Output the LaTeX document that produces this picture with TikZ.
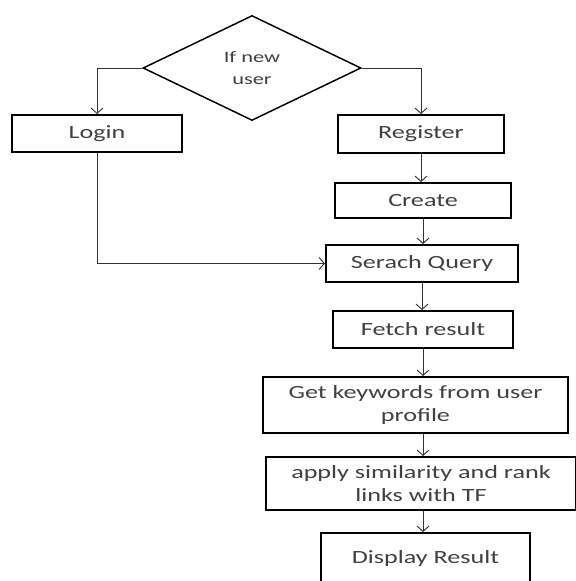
\documentclass[tikz,border=0pt]{standalone}
\usepackage{fontspec}
\setmainfont{Carlito}[FakeStretch=1.4]
\usetikzlibrary{shapes.geometric,arrows.meta}
\tikzset{
  stepbox/.style={draw,line width=1.5pt,inner sep=2pt,align=center,text=black!75,font=\fontsize{14}{17}\selectfont},
  arr/.style={-{Straight Barb[length=4pt,width=9pt]},line width=0.7pt,black!80}
}
\begin{document}
\begin{tikzpicture}[x=0.75pt,y=-0.75pt]
      \useasboundingbox (0,0) rectangle (575,581);
      \node[stepbox,diamond,line width=1.1pt,inner sep=0pt,minimum width=163.5pt,minimum height=78.75pt,font=\fontsize{12}{16}\selectfont] (decide) at (252,68) {If new\\user};
      \node[stepbox,minimum width=127.5pt,minimum height=27.75pt] (login) at (97,133.5) {Login};
      \node[stepbox,minimum width=124.5pt,minimum height=28.5pt] (register) at (421,134) {Register};
      \node[stepbox,minimum width=132pt,minimum height=26.25pt] (create) at (423,200.5) {Create};
      \node[stepbox,minimum width=144pt,minimum height=27.75pt] (search) at (422,263.5) {Serach Query};
      \node[stepbox,minimum width=135pt,minimum height=27.75pt] (fetch) at (423,329.5) {Fetch result};
      \node[stepbox,minimum width=228.75pt,minimum height=42pt] (keywords) at (415.5,405) {Get keywords from user\\profile};
      \node[stepbox,minimum width=232.5pt,minimum height=39.75pt] (apply) at (421,483.5) {apply similarity and rank\\links with TF};
      \node[stepbox,minimum width=156.75pt,minimum height=38.25pt] (display) at (425.5,558.5) {Display Result};
      % branches of the decision
      \draw[arr] (decide.west) -| (login.north);
      \draw[arr] (decide.east) -| (register.north);
      \draw[arr] (login.south) |- (search.west);
      % main column
      \draw[arr] (register.south) -- (register.south |- create.north);
      \draw[arr] (create.south) -- (create.south |- search.north);
      \draw[arr] (search.south) -- (search.south |- fetch.north);
      \draw[arr] (fetch.south) -- (fetch.south |- keywords.north);
      \draw[arr] (fetch.south |- keywords.south) -- (fetch.south |- apply.north);
      \draw[arr] (fetch.south |- apply.south) -- (fetch.south |- display.north);
    \end{tikzpicture}
\end{document}
